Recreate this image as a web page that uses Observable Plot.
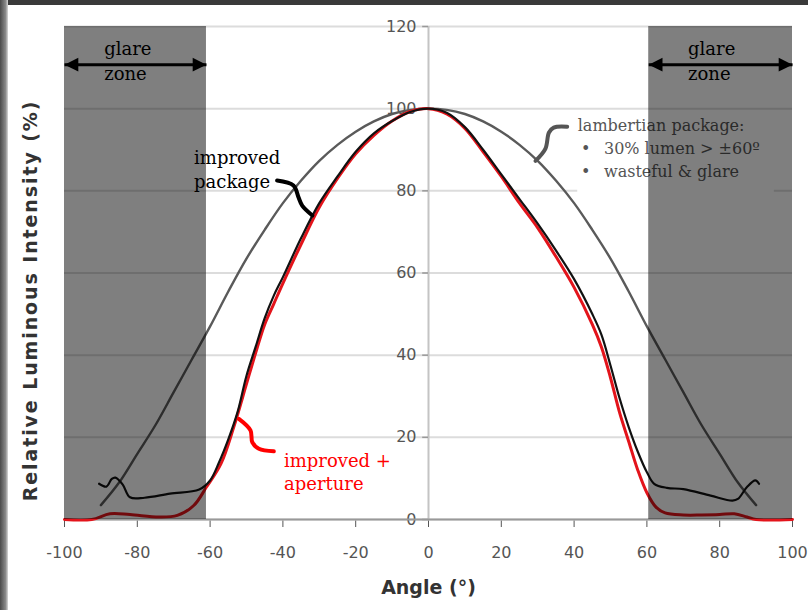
<!DOCTYPE html>
<html><head><meta charset="utf-8">
<script src="https://cdn.jsdelivr.net/npm/d3@7"></script>
<script src="https://cdn.jsdelivr.net/npm/@observablehq/plot@0.6"></script>
<style>
html,body{margin:0;padding:0;background:#fff;}
#chart{position:absolute;left:0;top:0;}
#frameTop{position:absolute;left:0;top:0;width:808px;height:5px;background:#3a3a3a;}
#frameLeft{position:absolute;left:0;top:0;width:8px;height:610px;background:linear-gradient(to right,#4a4a4a,#8a8a8a 70%,#d8d8d8);}
</style></head><body>
<div id="chart"></div><div id="frameTop"></div><div id="frameLeft"></div>
<script>
// ---- data ----
const xTicks = [-100,-80,-60,-40,-20,0,20,40,60,80,100];
const yTicks = [0,20,40,60,80,100,120];

const lamAngles = [-90,-85,-80,-75,-70,-65,-60,-55,-50,-45,-40,-35,-30,-25,-20,-15,-10,-5,0,5,10,15,20,25,30,35,40,45,50,55,60,65,70,75,80,85,90];
const lamValues = [3.5,9,16,23,31,39,47,55.5,63.5,70.5,77,82.5,87.3,91.2,94.4,96.9,98.7,99.7,100,99.7,98.7,96.9,94.4,91.2,87.3,82.5,77,70.5,63.5,55.5,47,39,31,23,16,9,3.5];

const impAngles = [-90.5,-88.5,-87,-86,-84,-82,-78,-71,-63,-60,-57.5,-55,-52.5,-50,-47.5,-45,-42.5,-40,-35,-30,-25,-20,-15,-10,-5,0,5,10,15,20,25,30,35,40,45,47.5,50,52.5,55,57.5,60,62,65.5,70,77.5,83.5,85,87.5,89.8,90.8];
const impValues = [8.7,8,9.9,10.2,8.5,5.4,5.3,6.3,7.3,9.5,14,19.5,26,35,42,49,54.5,59,68.5,77,83.5,89.5,94,97,99.2,100,99,95.5,90,84,78,72,65.5,58.5,50,45,37.5,29.5,22.5,16.5,11.5,8.7,7.7,7.4,5.8,4.6,5,7.9,9.5,8.7];

const aptAngles = [-100,-92.5,-87.5,-82,-74,-69,-64.5,-61,-57,-53.5,-50,-47.5,-45,-42.5,-40,-35,-30,-25,-20,-15,-10,-5,0,5,10,15,20,25,30,35,40,45,47.5,50,52.5,55,57.5,60,62.5,65,70,75,80,84,87.5,90,100];
const aptValues = [0,0,1.4,1.2,0.6,1,3.4,7.9,13.6,22.5,33,40.5,47.5,52.5,57.5,67,76,83,89,93.5,97,99.3,100,98.7,95.2,89.5,83.5,77,71,64,56.5,47.5,42,34.5,26,19,12,6.5,3,1.6,1.1,1.1,1.2,1.4,0.6,0,0];

const glareZones = [{x1:-100, x2:-61}, {x1:60.5, x2:100}];
const glareArrowY = 110.7;
const textBox = [{x1:41, x2:95, y1:77.5, y2:98.5}];

const glareLabels = [
  {text:"glare", x:-89.1, y:114.5}, {text:"zone", x:-89.1, y:108.3},
  {text:"glare", x:71.3, y:114.5}, {text:"zone", x:71.3, y:108.3}
];
const improvedLabels = [{text:"improved", x:-64.4, y:88.0}, {text:"package", x:-64.4, y:82.2}];
const apertureLabels = [{text:"improved +", x:-39.7, y:14.3}, {text:"aperture", x:-39.7, y:8.7}];
const lamLabels = [
  {text:"lambertian package:", x:41.0, y:95.9},
  {text:"30% lumen > ±60º", x:48.2, y:90.3},
  {text:"wasteful & glare", x:48.2, y:84.7}
];
const lamBullets = [{x:41.9, y:90.3}, {x:41.9, y:84.7}];

const improvedConnector = [[-41.6,82.5],[-37.1,81.3],[-35.7,78.4],[-34.7,76.4],[-31.9,74]];
const apertureConnector = [[-52.1,24.5],[-48.9,21.7],[-48.4,18.8],[-46.6,17.2],[-42.5,16.6]];
const lamConnector = [[29.4,87.3],[32.1,90.2],[33.1,94.2],[34.4,95.4],[38.1,95.6]];

// ---- build series ----
const lambertian = lamAngles.map((a,i)=>({angle:a, value:lamValues[i]}));
const improved = impAngles.map((a,i)=>({angle:a, value:impValues[i]}));
const aperture = aptAngles.map((a,i)=>({angle:a, value:aptValues[i]}));

const triLeft = {draw(ctx, size){ const r = Math.sqrt(size/Math.PI); const L = r*2.3, H = r*1.15; ctx.moveTo(0,0); ctx.lineTo(L,-H); ctx.lineTo(L,H); ctx.closePath(); }};
const triRight = {draw(ctx, size){ const r = Math.sqrt(size/Math.PI); const L = r*2.3, H = r*1.15; ctx.moveTo(0,0); ctx.lineTo(-L,-H); ctx.lineTo(-L,H); ctx.closePath(); }};

const serif = "DejaVu Serif, serif";
const sans = "DejaVu Sans, sans-serif";

const chart = Plot.plot({
  width: 808, height: 610,
  marginLeft: 64, marginRight: 16, marginTop: 26, marginBottom: 91,
  style: {background: "transparent", fontFamily: sans, color: "#555", fontSize: "16px"},
  x: {domain: [-100, 100], ticks: xTicks, tickSize: 8, tickPadding: 19, tickFormat: d => String(d), label: null},
  y: {domain: [0, 120], axis: null},
  marks: [
    Plot.ruleY(yTicks, {stroke: "#dcdcdc", strokeWidth: 2}),
    Plot.ruleX([0], {y1: 0, y2: 120, stroke: "#c4c4c4", strokeWidth: 2}),
    Plot.ruleY(yTicks, {x1: -1.6, x2: 0, stroke: "#999", strokeWidth: 1.5}),
    Plot.text(yTicks, {x: 0, y: d => d, dx: -12, textAnchor: "end", fill: "#555", fontSize: 16, fontFamily: sans}),
    Plot.ruleY([0], {stroke: "#999", strokeWidth: 2}),
    Plot.rect(textBox, {x1: "x1", x2: "x2", y1: "y1", y2: "y2", fill: "white"}),
    Plot.text(lamLabels, {x: "x", y: "y", text: "text", textAnchor: "start", fill: "#555", fontSize: 16, fontFamily: serif}),
    Plot.text(lamBullets, {x: "x", y: "y", text: () => "•", textAnchor: "start", fill: "#555", fontSize: 16, fontFamily: serif}),
    Plot.line(lambertian, {x: "angle", y: "value", stroke: "#5a5a5a", strokeWidth: 2.4, curve: "catmull-rom"}),
    Plot.line(aperture, {x: "angle", y: "value", stroke: "#e3141b", strokeWidth: 3, curve: "catmull-rom"}),
    Plot.line(improved, {x: "angle", y: "value", stroke: "#111", strokeWidth: 2.2, curve: "catmull-rom"}),
    Plot.rect(glareZones, {x1: "x1", x2: "x2", y1: 0, y2: 120, fill: "black", fillOpacity: 0.5}),
    Plot.line(improvedConnector, {x: d => d[0], y: d => d[1], stroke: "#000", strokeWidth: 4, curve: "catmull-rom"}),
    Plot.line(apertureConnector, {x: d => d[0], y: d => d[1], stroke: "#f00", strokeWidth: 4, curve: "catmull-rom"}),
    Plot.line(lamConnector, {x: d => d[0], y: d => d[1], stroke: "#555", strokeWidth: 4, curve: "catmull-rom"}),
    Plot.link(glareZones, {x1: "x1", x2: "x2", y1: glareArrowY, y2: glareArrowY, stroke: "#000", strokeWidth: 3}),
    Plot.dot(glareZones, {x: "x1", y: glareArrowY, symbol: triLeft, r: 6, fill: "#000", stroke: "none"}),
    Plot.dot(glareZones, {x: "x2", y: glareArrowY, symbol: triRight, r: 6, fill: "#000", stroke: "none"}),
    Plot.text(glareLabels, {x: "x", y: "y", text: "text", textAnchor: "start", fill: "#000", fontSize: 18, fontFamily: serif}),
    Plot.text(improvedLabels, {x: "x", y: "y", text: "text", textAnchor: "start", fill: "#000", fontSize: 18, fontFamily: serif}),
    Plot.text(apertureLabels, {x: "x", y: "y", text: "text", textAnchor: "start", fill: "#f00", fontSize: 18, fontFamily: serif}),
    Plot.text(["Angle (°)"], {frameAnchor: "bottom", textAnchor: "middle", dy: 74, fill: "#333", fontSize: 19, fontWeight: "bold", fontFamily: sans}),
    Plot.text(["Relative Luminous Intensity (%)"], {frameAnchor: "left", textAnchor: "middle", rotate: -90, dx: -34, dy: 27.5, fill: "#333", fontSize: 19, fontWeight: "bold", fontFamily: sans})
  ]
});
d3.select(chart).selectAll("text").filter(function(){ return this.textContent === "Relative Luminous Intensity (%)"; }).style("letter-spacing", "1.9px");
document.getElementById("chart").appendChild(chart);
</script></body></html>
